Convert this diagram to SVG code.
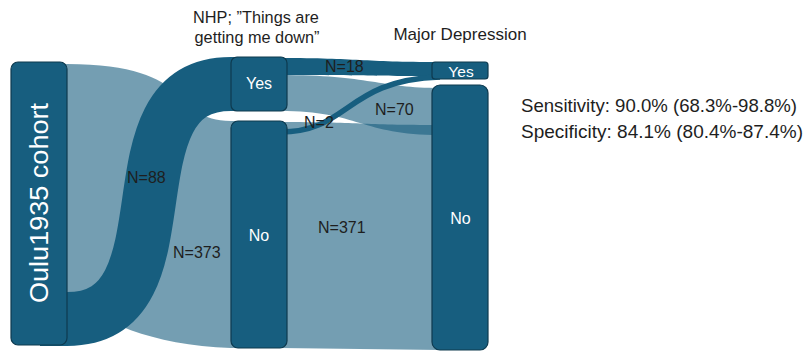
<svg xmlns="http://www.w3.org/2000/svg" width="807" height="354" viewBox="0 0 807 354">
  <style>
    .node { fill: #175e7f; stroke: #0e3a4f; stroke-width: 1.2; }
    .lite { fill: #175e7f; fill-opacity: 0.6; stroke: none; }
    .dark { fill: #175e7f; stroke: none; }
    .band { fill: none; stroke: #175e7f; }
    .lbl { font-family: "Liberation Sans", Arial, sans-serif; fill: #1e1e1e; }
    .in { font-family: "Liberation Sans", Arial, sans-serif; fill: #ffffff; text-anchor: middle; }
  </style>
  <rect width="807" height="354" fill="#ffffff"/>

  <!-- flows between the stages -->
  <g id="connectors">
    <!-- cohort -> NHP No (373) -->
    <path class="lite" d="M40,64 H67 C200,64 170,121 231,121 H245 V348 H231 C150,345 100,322 67,292 H40 Z"/>
    <!-- NHP Yes -> MD No (70) -->
    <path class="lite" d="M280,75 C370,75 380,88 440,88 V135 C360,135 360,111 280,111 Z"/>
    <!-- NHP No -> MD No (371) -->
    <path class="lite" d="M280,122 C360,122 360,125 440,125 V350 L280,348 Z"/>
    <!-- cohort -> NHP Yes (88) -->
    <path class="band" stroke-width="54" d="M40,319 H67 C197,319 101,84 231,84 H245"/>
    <!-- NHP Yes -> MD Yes (18) -->
    <path class="dark" d="M280,58 C360,58 360,62 440,62 V76 C360,76 360,75 280,75 Z"/>
    <!-- NHP No -> MD Yes (2) -->
    <path class="band" stroke-width="5.5" d="M280,132 C350,132 345,80 440,77"/>
  </g>

  <g id="cohort">
    <rect class="node" x="11" y="62" width="56" height="283" rx="7"/>
    <text class="in" transform="translate(48,203) rotate(-90)" font-size="25" textLength="200" lengthAdjust="spacingAndGlyphs">Oulu1935 cohort</text>
  </g>

  <g id="nhp-yes">
    <rect class="node" x="231" y="57" width="56" height="54" rx="6"/>
    <text class="in" x="259" y="89" font-size="16">Yes</text>
  </g>

  <g id="nhp-no">
    <rect class="node" x="231" y="121" width="56" height="227" rx="7"/>
    <text class="in" x="259" y="241" font-size="16">No</text>
  </g>

  <g id="md-yes">
    <rect class="node" x="432" y="62" width="56" height="17" rx="3"/>
    <text class="in" x="461" y="77" font-size="15.5">Yes</text>
  </g>

  <g id="md-no">
    <rect class="node" x="432" y="85" width="56" height="265" rx="8"/>
    <text class="in" x="460.5" y="224" font-size="16">No</text>
  </g>

  <!-- flow counts -->
  <g id="flow-labels" class="lbl" font-size="16">
    <text x="127" y="183">N=88</text>
    <text x="173" y="258">N=373</text>
    <text x="325" y="72">N=18</text>
    <text x="304" y="128">N=2</text>
    <text x="375" y="115">N=70</text>
    <text x="318" y="233">N=371</text>
  </g>

  <!-- stage titles -->
  <g id="titles" class="lbl">
    <text x="256" y="23" font-size="16.3" text-anchor="middle">NHP; ”Things are</text>
    <text x="257" y="43" font-size="16.3" text-anchor="middle">getting me down”</text>
    <text x="460" y="40" font-size="17" text-anchor="middle">Major Depression</text>
  </g>

  <g id="accuracy" class="lbl" font-size="18.5">
    <text x="521" y="112" textLength="276" lengthAdjust="spacingAndGlyphs">Sensitivity: 90.0% (68.3%-98.8%)</text>
    <text x="521" y="138" textLength="282" lengthAdjust="spacingAndGlyphs">Specificity: 84.1% (80.4%-87.4%)</text>
  </g>
</svg>
